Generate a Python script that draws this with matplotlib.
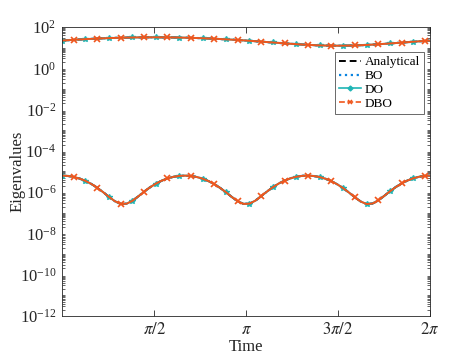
import numpy as np
import matplotlib
matplotlib.use("Agg")
import matplotlib.pyplot as plt
from matplotlib.ticker import FixedLocator, LogLocator, LogFormatterSciNotation, NullFormatter

# time samples (rad), step 0.1 plus the end point 2*pi
time = [round(0.1 * i, 1) for i in range(63)] + [2 * np.pi]

# large eigenvalue
lam_large = [
    22.0, 22.96, 23.91, 24.84, 25.74, 26.60, 27.42, 28.18, 28.89, 29.52,
    30.08, 30.56, 30.95, 31.25, 31.46, 31.58, 31.60, 31.52, 31.35, 31.08,
    30.73, 30.29, 29.76, 29.16, 28.48, 27.75, 26.95, 26.10, 25.22, 24.30,
    23.35, 22.40, 21.44, 20.49, 19.55, 18.63, 17.75, 16.91, 16.13, 15.40,
    14.73, 14.14, 13.63, 13.20, 12.86, 12.62, 12.46, 12.40, 12.44, 12.57,
    12.79, 13.11, 13.52, 14.01, 14.58, 15.23, 15.94, 16.71, 17.54, 18.41,
    19.32, 20.25, 21.20, 22.0,
]

# small eigenvalue
lam_small = [
    6.31e-6, 6.08e-6, 5.46e-6, 4.55e-6, 3.51e-6, 2.50e-6, 1.64e-6, 1.01e-6, 5.97e-7, 3.67e-7,
    2.70e-7, 2.73e-7, 3.76e-7, 6.15e-7, 1.04e-6, 1.69e-6, 2.55e-6, 3.56e-6, 4.60e-6, 5.50e-6,
    6.10e-6, 6.31e-6, 6.05e-6, 5.41e-6, 4.49e-6, 3.44e-6, 2.44e-6, 1.60e-6, 9.82e-7, 5.81e-7,
    3.59e-7, 2.68e-7, 2.76e-7, 3.85e-7, 6.32e-7, 1.07e-6, 1.73e-6, 2.61e-6, 3.62e-6, 4.66e-6,
    5.55e-6, 6.12e-6, 6.30e-6, 6.03e-6, 5.36e-6, 4.43e-6, 3.39e-6, 2.39e-6, 1.56e-6, 9.53e-7,
    5.62e-7, 3.51e-7, 2.65e-7, 2.79e-7, 3.95e-7, 6.52e-7, 1.10e-6, 1.77e-6, 2.66e-6, 3.68e-6,
    4.71e-6, 5.58e-6, 6.14e-6, 6.31e-6,
]

xticks = [np.pi / 2, np.pi, 3 * np.pi / 2, 2 * np.pi]
xticklabels = [r"$\pi/2$", r"$\pi$", r"$3\pi/2$", r"$2\pi$"]
yticks = [1e-12, 1e-10, 1e-8, 1e-6, 1e-4, 1e-2, 1e0, 1e2]

plt.rcParams["font.family"] = ["Liberation Serif", "DejaVu Serif"]
plt.rcParams["mathtext.fontset"] = "stix"

AX_COLOR = "#262626"
BLUE = "#0a84e0"
TEAL = "#1fb5b5"
ORANGE = "#f0561d"


def main() -> None:
    fig = plt.figure(figsize=(4.75, 3.56), dpi=100)
    ax = fig.add_axes([0.1305, 0.1124, 0.7748, 0.8118])

    for curve in (lam_large, lam_small):
        ax.plot(time, curve, color="black", linestyle=(0, (5, 3)), linewidth=1.4)
        ax.plot(time, curve, color=BLUE, linestyle=":", linewidth=1.6)
        ax.plot(time, curve, color=TEAL, linestyle="-", linewidth=1.4,
                marker="*", markersize=4, markevery=(0, 4))
        ax.plot(time, curve, color=ORANGE, linestyle="-", linewidth=1.4,
                marker="x", markersize=3.8, markeredgewidth=1.2, markevery=(2, 4))

    # legend handles
    h1, = ax.plot([], [], color="black", linestyle=(0, (3.5, 2)), linewidth=1.4)
    h2, = ax.plot([], [], color=BLUE, linestyle=":", linewidth=1.6)
    h3, = ax.plot([], [], color=TEAL, linestyle="-", linewidth=1.2, marker="D", markersize=2.5)
    h4, = ax.plot([], [], color=ORANGE, linestyle=(0, (3.5, 1.5)), linewidth=1.2,
                  marker="x", markersize=3.5, markeredgewidth=1.1)

    ax.set_yscale("log")
    ax.set_xlim(0, 2 * np.pi)
    ax.set_ylim(1e-12, 1e2)
    ax.xaxis.set_major_locator(FixedLocator(xticks))
    ax.set_xticklabels(xticklabels)
    ax.yaxis.set_major_locator(FixedLocator(yticks))
    ax.yaxis.set_major_formatter(LogFormatterSciNotation())
    ax.yaxis.set_minor_locator(LogLocator(base=10, subs=np.arange(1, 10), numticks=1000))
    ax.yaxis.set_minor_formatter(NullFormatter())

    ax.tick_params(which="both", direction="in", top=True, right=True,
                   colors=AX_COLOR, labelsize=12, pad=4)
    ax.tick_params(which="major", length=4, width=0.6)
    ax.tick_params(which="minor", length=2, width=0.5)
    ax.tick_params(axis="y", which="major", length=0)
    for spine in ax.spines.values():
        spine.set_color(AX_COLOR)
        spine.set_linewidth(0.6)

    ax.set_xlabel("Time", fontsize=12, color=AX_COLOR, labelpad=1)
    ax.set_ylabel("Eigenvalues", fontsize=12, color=AX_COLOR, labelpad=-4)

    leg = ax.legend([h1, h2, h3, h4], ["Analytical", "BO", "DO", "DBO"],
                    loc="upper right", bbox_to_anchor=(0.984, 0.913),
                    fontsize=9.5, frameon=True, fancybox=False,
                    handlelength=1.7, handletextpad=0.3, labelspacing=0.12,
                    borderpad=0.3, borderaxespad=0)
    leg.get_frame().set_edgecolor(AX_COLOR)
    leg.get_frame().set_linewidth(0.6)

    fig.savefig("out.png", dpi=100)
    plt.close(fig)


if __name__ == "__main__":
    main()
